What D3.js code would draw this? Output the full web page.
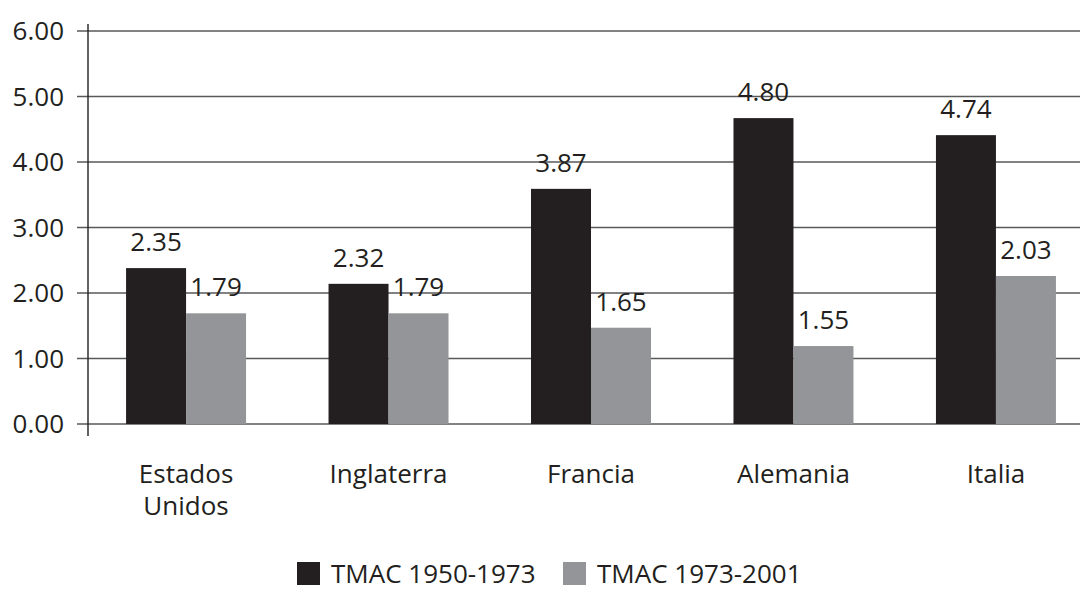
<!DOCTYPE html>
<html>
<head>
<meta charset="utf-8">
<script src="https://cdn.jsdelivr.net/npm/d3@7"></script>
<style>
  body { margin: 0; background: #fff; }
  text { font-family: "Open Sans", sans-serif; fill: #231f20; }
</style>
</head>
<body>
<div id="chart"></div>
<script>
//////////////////////////// Data ////////////////////////////
var categories = [["Estados", "Unidos"], ["Inglaterra"], ["Francia"], ["Alemania"], ["Italia"]];
var seriesNames = ["TMAC 1950-1973", "TMAC 1973-2001"];
//bar heights as drawn in the picture
var tmac1950 = [2.38, 2.14, 3.59, 4.67, 4.41];
var tmac1973 = [1.69, 1.69, 1.47, 1.19, 2.26];
//printed labels
var labels1950 = ["2.35", "2.32", "3.87", "4.80", "4.74"];
var labels1973 = ["1.79", "1.79", "1.65", "1.55", "2.03"];
var yTicks = [0, 1, 2, 3, 4, 5, 6];

var colors = ["#231f20", "#939598"];

var width = 1080, height = 590;

var svg = d3.select("#chart").append("svg")
    .attr("width", width)
    .attr("height", height);

//scales
var x = d3.scaleBand()
    .domain(d3.range(categories.length))
    .range([88, 1094])
    .paddingInner(0.4074)
    .paddingOuter(0.188);

var xSub = d3.scaleBand()
    .domain([0, 1])
    .range([0, x.bandwidth()]);

var y = d3.scaleLinear()
    .domain([0, 6])
    .range([424, 31]);

//gridlines + ticks
svg.append("g")
    .selectAll("line")
    .data(yTicks)
    .enter().append("line")
    .attr("x1", 77)
    .attr("x2", width)
    .attr("y1", function(d) { return y(d); })
    .attr("y2", function(d) { return y(d); })
    .attr("stroke", "#58595b")
    .attr("stroke-width", 1.4);

svg.append("g")
    .selectAll("text")
    .data(yTicks)
    .enter().append("text")
    .attr("x", 64)
    .attr("y", function(d) { return y(d); })
    .attr("dy", "0.35em")
    .attr("text-anchor", "end")
    .style("font-size", "26px")
    .text(function(d) { return d3.format(".2f")(d); });

//bars
var series = [tmac1950, tmac1973];
var seriesLabels = [labels1950, labels1973];

series.forEach(function(vals, s) {
    var g = svg.append("g");
    g.selectAll("rect")
        .data(vals)
        .enter().append("rect")
        .attr("x", function(d, i) { return x(i) + xSub(s); })
        .attr("y", function(d) { return y(d); })
        .attr("width", xSub.bandwidth())
        .attr("height", function(d) { return y(0) - y(d); })
        .attr("fill", colors[s]);

    g.selectAll("text")
        .data(vals)
        .enter().append("text")
        .attr("x", function(d, i) { return x(i) + xSub(s) + xSub.bandwidth() / 2; })
        .attr("y", function(d) { return y(d) - 17; })
        .attr("text-anchor", "middle")
        .style("font-size", "26px")
        .text(function(d, i) { return seriesLabels[s][i]; });
});

//y axis line
svg.append("line")
    .attr("x1", 88).attr("x2", 88)
    .attr("y1", 24).attr("y2", 436)
    .attr("stroke", "#231f20")
    .attr("stroke-width", 1.4);

//category labels
var cat = svg.append("g")
    .selectAll("text")
    .data(categories)
    .enter().append("text")
    .attr("text-anchor", "middle")
    .attr("transform", function(d, i) { return "translate(" + (x(i) + x.bandwidth() / 2) + ",483)"; })
    .style("font-size", "26px");

cat.selectAll("tspan")
    .data(function(d) { return d; })
    .enter().append("tspan")
    .attr("x", 0)
    .attr("y", function(d, i) { return i * 32; })
    .text(function(d) { return d; });

//legend
var legendX = [297, 563];
var legend = svg.append("g")
    .selectAll("g")
    .data(seriesNames)
    .enter().append("g")
    .attr("transform", function(d, i) { return "translate(" + legendX[i] + ",562)"; });

legend.append("rect")
    .attr("width", 23)
    .attr("height", 23)
    .attr("fill", function(d, i) { return colors[i]; });

legend.append("text")
    .attr("x", 34)
    .attr("y", 21)
    .style("font-size", "26px")
    .text(function(d) { return d; });
</script>
</body>
</html>
